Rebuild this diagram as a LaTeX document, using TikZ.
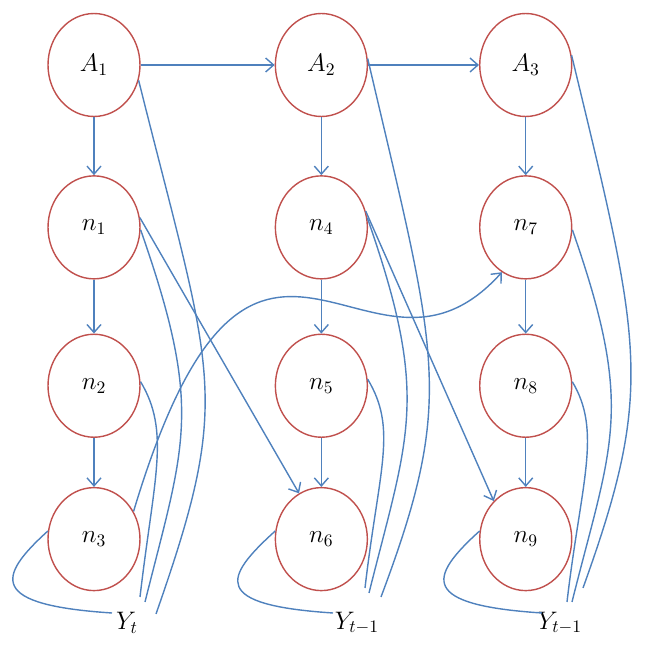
\documentclass[tikz,border=0pt]{standalone}
\usepackage{amsmath,amssymb}
\usepackage{tikz}
\usetikzlibrary{arrows.meta, positioning, shapes.geometric}
\definecolor{NodeRed}{HTML}{C0504D}
\definecolor{LinkBlue}{HTML}{4F81BD}
\begin{document}
\begin{tikzpicture}[
    x=0.02cm, y=-0.02cm,
    vnode/.style={ellipse, draw=NodeRed, line width=0.8pt, minimum width=1.84cm,
                  minimum height=2.06cm, inner sep=0pt, font=\Large},
    arr/.style={-{Straight Barb[length=1.6mm,width=2.8mm]}, line width=0.8pt, color=LinkBlue},
    lnk/.style={line width=0.8pt, color=LinkBlue},
    ylab/.style={font=\Large, inner sep=1pt}
  ]
  \useasboundingbox (0,0) rectangle (647,645);
  \node[vnode] (A1) at (94,65) {$A_1$};
  \node[vnode, right=2.68cm of A1] (A2) {$A_2$};
  \node[vnode, right=2.22cm of A2] (A3) {$A_3$};
  \node[vnode, below=1.16cm of A1] (n1) {$n_1$};
  \node[vnode, below=1.16cm of A2] (n4) {$n_4$};
  \node[vnode, below=1.16cm of A3] (n7) {$n_7$};
  \node[vnode, below=1.08cm of n1] (n2) {$n_2$};
  \node[vnode, below=1.08cm of n4] (n5) {$n_5$};
  \node[vnode, below=1.08cm of n7] (n8) {$n_8$};
  \node[vnode, below=0.98cm of n2] (n3) {$n_3$};
  \node[vnode, below=0.98cm of n5] (n6) {$n_6$};
  \node[vnode, below=0.98cm of n8] (n9) {$n_9$};
  \node[ylab] (Yt) at (127,623) {$Y_t$};
  \node[ylab] (Yu) at (357,623) {$Y_{t-1}$};
  \node[ylab] (Yv) at (560,623) {$Y_{t-1}$};
  \coordinate (yta) at (112,613);
  \coordinate (ytb) at (140,597);
  \coordinate (ytc) at (145,602);
  \coordinate (ytd) at (156,614);
  \coordinate (yua) at (333,613);
  \coordinate (yub) at (365,588);
  \coordinate (yuc) at (369,593);
  \coordinate (yud) at (381,597);
  \coordinate (yva) at (542,613);
  \coordinate (yvb) at (567,602);
  \coordinate (yvc) at (572,602);
  \coordinate (yvd) at (583,588);
  \draw[arr] (A1)--(A2);
  \draw[arr] (A2)--(A3);
  \draw[arr] (A1)--(n1);
  \draw[arr] (n1)--(n2);
  \draw[arr] (n2)--(n3);
  \draw[arr] (A2)--(n4);
  \draw[arr] (n4)--(n5);
  \draw[arr] (n5)--(n6);
  \draw[arr] (A3)--(n7);
  \draw[arr] (n7)--(n8);
  \draw[arr] (n8)--(n9);
  \draw[arr] (n1.12)--(n6.116);
  \draw[arr] (n4.20)--(n9.130);
  \draw[arr] (n3.35) .. controls +(120,-400) and +(-135,150) .. (n7.-118);
  \draw[lnk] (A1.-19) .. controls +(75,300) and +(77,-220) .. (ytd);
  \draw[lnk] (n1.-3) .. controls +(63,180) and +(40,-160) .. (ytc);
  \draw[lnk] (n2.5) .. controls +(30,50) and +(14,-120) .. (ytb);
  \draw[lnk] (n3.170) .. controls +(-52,47) and +(-122,-8) .. (yta);
  \draw[lnk] (A2.8) .. controls +(70,300) and +(75,-200) .. (yud);
  \draw[lnk] (n4.12) .. controls +(63,180) and +(40,-160) .. (yuc);
  \draw[lnk] (n5.8) .. controls +(30,50) and +(14,-120) .. (yub);
  \draw[lnk] (n6.170) .. controls +(-52,47) and +(-122,-8) .. (yua);
  \draw[lnk] (A3.12) .. controls +(70,290) and +(72,-200) .. (yvd);
  \draw[lnk] (n7.-3) .. controls +(63,180) and +(40,-160) .. (yvc);
  \draw[lnk] (n8.5) .. controls +(30,50) and +(14,-120) .. (yvb);
  \draw[lnk] (n9.170) .. controls +(-52,47) and +(-122,-8) .. (yva);
\end{tikzpicture}
\end{document}
